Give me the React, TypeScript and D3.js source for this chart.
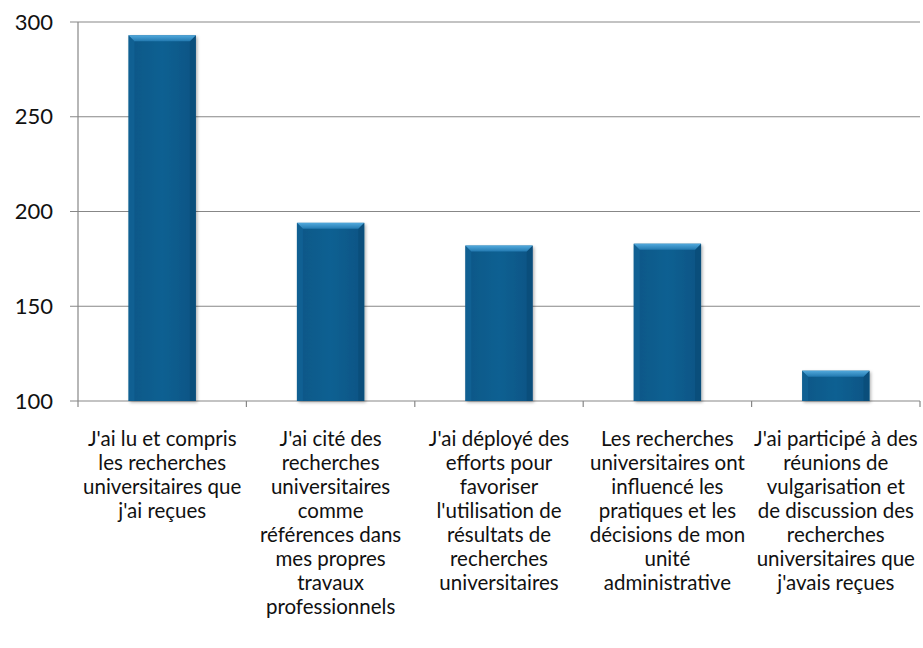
import React, { useEffect, useRef } from "react";
import * as d3 from "d3";

const CATEGORIES: string[][] = [
  ["J'ai lu et compris", "les recherches", "universitaires que", "j'ai reçues"],
  ["J'ai cité des", "recherches", "universitaires", "comme", "références dans", "mes propres", "travaux", "professionnels"],
  ["J'ai déployé des", "efforts pour", "favoriser", "l'utilisation de", "résultats de", "recherches", "universitaires"],
  ["Les recherches", "universitaires ont", "influencé les", "pratiques et les", "décisions de mon", "unité", "administrative"],
  ["J'ai participé à des", "réunions de", "vulgarisation et", "de discussion des", "recherches", "universitaires que", "j'avais reçues"],
];
const VALUES = [293, 194, 182, 183, 116];
const Y_TICKS = [100, 150, 200, 250, 300];

export default function App() {
  const svgRef = useRef<SVGSVGElement>(null);

  useEffect(() => {
    if (!svgRef.current) return;
    const width = 923;
    const height = 648;
    const margin = { top: 22, right: 3, bottom: 247, left: 78 };
    const chartWidth = width - margin.left - margin.right;
    const chartHeight = height - margin.top - margin.bottom;
    const font = "Lato, 'Open Sans', sans-serif";

    const svg = d3.select(svgRef.current);
    svg.selectAll("*").remove();

    const defs = svg.append("defs");
    const shadow = defs.append("filter").attr("id", "shadow")
      .attr("x", "-20%").attr("y", "-20%").attr("width", "140%").attr("height", "140%");
    shadow.append("feDropShadow")
      .attr("dx", 1.5).attr("dy", 1.5).attr("stdDeviation", 1.8)
      .attr("flood-color", "#000").attr("flood-opacity", 0.3);

    const topGrad = defs.append("linearGradient").attr("id", "topBevel")
      .attr("x1", 0).attr("y1", 0).attr("x2", 0).attr("y2", 1);
    topGrad.append("stop").attr("offset", "0%").attr("stop-color", "#52a9dc");
    topGrad.append("stop").attr("offset", "100%").attr("stop-color", "#2279b0");

    const bodyGrad = defs.append("linearGradient").attr("id", "body")
      .attr("x1", 0).attr("y1", 0).attr("x2", 1).attr("y2", 0);
    bodyGrad.append("stop").attr("offset", "0%").attr("stop-color", "#0c5787");
    bodyGrad.append("stop").attr("offset", "50%").attr("stop-color", "#0f6092");
    bodyGrad.append("stop").attr("offset", "100%").attr("stop-color", "#0b5484");

    const g = svg.append("g").attr("transform", `translate(${margin.left},${margin.top})`);

    const x = d3.scaleBand<number>()
      .domain(d3.range(VALUES.length))
      .range([0, chartWidth])
      .paddingInner(0.6)
      .paddingOuter(0.3);

    const y = d3.scaleLinear().domain([100, 300]).range([chartHeight, 0]);

    // gridlines
    g.selectAll(".grid")
      .data(Y_TICKS)
      .enter()
      .append("line")
      .attr("x1", -8)
      .attr("x2", chartWidth)
      .attr("y1", d => y(d))
      .attr("y2", d => y(d))
      .attr("stroke", "#878787")
      .attr("stroke-width", 1.2);

    // y axis line
    g.append("line")
      .attr("x1", 0).attr("x2", 0)
      .attr("y1", 0).attr("y2", chartHeight)
      .attr("stroke", "#878787").attr("stroke-width", 1.2);

    // x ticks at category boundaries
    const boundaries = d3.range(VALUES.length + 1).map(i => i * (chartWidth / VALUES.length));
    g.selectAll(".xtick")
      .data(boundaries)
      .enter()
      .append("line")
      .attr("x1", d => d).attr("x2", d => d)
      .attr("y1", chartHeight).attr("y2", chartHeight + 6)
      .attr("stroke", "#878787").attr("stroke-width", 1.2);

    // y labels
    g.selectAll(".ylab")
      .data(Y_TICKS)
      .enter()
      .append("text")
      .attr("x", -25)
      .attr("y", d => y(d))
      .attr("dy", "0.35em")
      .attr("text-anchor", "end")
      .attr("font-family", font)
      .attr("font-size", "22px")
      .attr("fill", "#111")
      .text(d => d);

    // bars with bevel
    const bevel = 6;
    const barG = g.selectAll(".bar")
      .data(VALUES)
      .enter()
      .append("g")
      .attr("transform", (d, i) => `translate(${x(i)},${y(d)})`);

    barG.append("rect")
      .attr("width", x.bandwidth())
      .attr("height", d => chartHeight - y(d))
      .attr("fill", "url(#body)")
      .attr("filter", "url(#shadow)");

    barG.append("path")
      .attr("d", d => {
        const h = chartHeight - y(d);
        return `M0,0 L${bevel},${bevel} L${bevel},${h} L0,${h} Z`;
      })
      .attr("fill", "#13659a")
      .attr("opacity", 0.6);

    barG.append("path")
      .attr("d", d => {
        const w = x.bandwidth();
        const h = chartHeight - y(d);
        return `M${w},0 L${w - bevel},${bevel} L${w - bevel},${h} L${w},${h} Z`;
      })
      .attr("fill", "#084a74")
      .attr("opacity", 0.6);

    barG.append("path")
      .attr("d", () => {
        const w = x.bandwidth();
        return `M0,0 L${w},0 L${w - bevel},${bevel} L${bevel},${bevel} Z`;
      })
      .attr("fill", "url(#topBevel)");

    // category labels
    const labG = g.selectAll(".clab")
      .data(CATEGORIES)
      .enter()
      .append("text")
      .attr("text-anchor", "middle")
      .attr("font-family", font)
      .attr("font-size", "20.5px")
      .attr("fill", "#111")
      .attr("transform", (d, i) => `translate(${x(i)! + x.bandwidth() / 2},${chartHeight + 45})`);

    labG.selectAll("tspan")
      .data(d => d)
      .enter()
      .append("tspan")
      .attr("x", 0)
      .attr("y", (d, i) => i * 24)
      .text(d => d);
  }, []);

  return <svg ref={svgRef} width={923} height={648} style={{ display: "block", position: "absolute", left: 0, top: 0 }} />;
}
